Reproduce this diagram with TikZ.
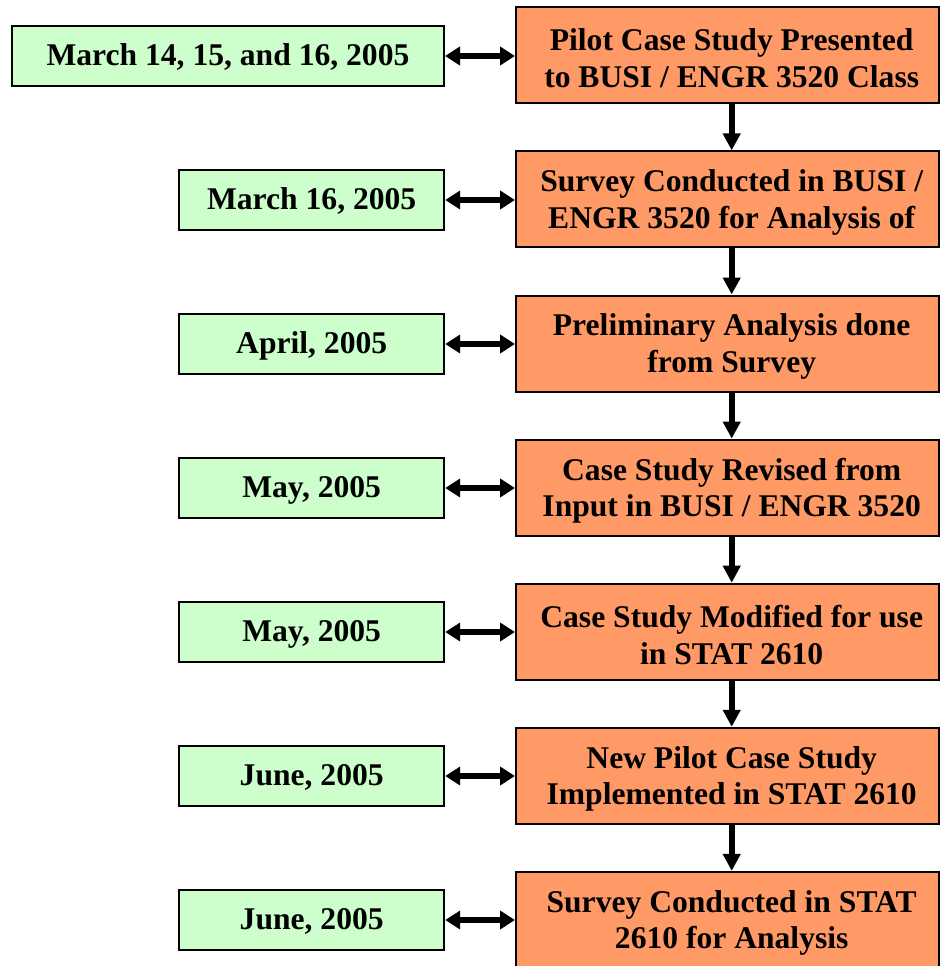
\documentclass[tikz,border=0pt]{standalone}
\usepackage{fontspec}
\setmainfont{Liberation Serif}
\usetikzlibrary{arrows.meta}
\definecolor{stepfill}{HTML}{FF9966}
\definecolor{datefill}{HTML}{CCFFCC}
\begin{document}
\begin{tikzpicture}[x=1pt,y=-1pt,
  every node/.style={font=\bfseries\fontsize{31.6}{36.7}\selectfont},
  stagebox/.style={draw=black, line width=2pt, fill=stepfill,
    minimum width=423pt, minimum height=96pt, inner sep=0pt},
  stagetext/.style={align=center, xshift=4.2pt, yshift=-3pt, inner sep=0pt},
  datebox/.style={draw=black, line width=2pt, fill=datefill,
    minimum height=60pt, inner sep=0pt, text height=22pt, text depth=3.4pt},
  link/.style={line width=6pt, -{Triangle[length=17pt,width=17pt]}},
  twoway/.style={line width=6pt,
    {Triangle[length=15pt,width=18pt]}-{Triangle[length=15pt,width=18pt]}}]
\clip (0,0) rectangle (940,966);
\fill[white] (0,0) rectangle (940,966);

% process stages (right column)
\node[stagebox, label={[stagetext]center:Pilot Case Study Presented\\to BUSI / ENGR 3520 Class}] (s1) at (727.5,55.3) {};
\node[stagebox, label={[stagetext]center:Survey Conducted in BUSI /\\ENGR 3520 for Analysis of}] (s2) at (727.5,199.4) {};
\node[stagebox, label={[stagetext]center:Preliminary Analysis done\\from Survey}] (s3) at (727.5,343.5) {};
\node[stagebox, label={[stagetext]center:Case Study Revised from\\Input in BUSI / ENGR 3520}] (s4) at (727.5,487.6) {};
\node[stagebox, label={[stagetext]center:Case Study Modified for use\\in STAT 2610}] (s5) at (727.5,631.7) {};
\node[stagebox, label={[stagetext]center:New Pilot Case Study\\Implemented in STAT 2610}] (s6) at (727.5,775.8) {};
\node[stagebox, label={[stagetext]center:Survey Conducted in STAT\\2610 for Analysis}] (s7) at (727.5,919.9) {};

% dates (left column)
\node[datebox, minimum width=432pt] (d1) at (228,56) {March 14, 15, and 16, 2005};
\node[datebox, minimum width=265pt] (d2) at (311.7,200) {March 16, 2005};
\node[datebox, minimum width=265pt] (d3) at (311.7,344) {April, 2005};
\node[datebox, minimum width=265pt] (d4) at (311.7,488) {May, 2005};
\node[datebox, minimum width=265pt] (d5) at (311.7,632) {May, 2005};
\node[datebox, minimum width=265pt] (d6) at (311.7,776) {June, 2005};
\node[datebox, minimum width=265pt] (d7) at (311.7,920) {June, 2005};

% date <-> stage links
\foreach \i in {1,...,7}{
  \draw[twoway] (d\i.east) -- (d\i.east -| s\i.west);
}

% stage sequence
\foreach \i/\j in {1/2,2/3,3/4,4/5,5/6,6/7}{
  \draw[link] ([xshift=4.2pt]s\i.south) -- ([xshift=4.2pt]s\j.north);
}
\end{tikzpicture}
\end{document}
